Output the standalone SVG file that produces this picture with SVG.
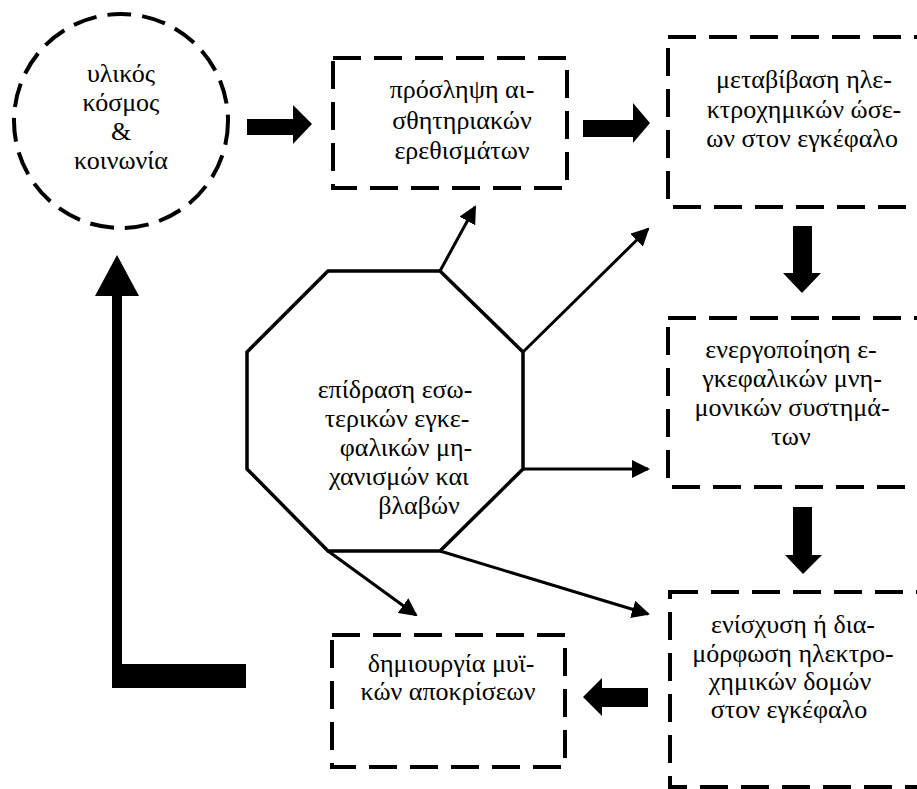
<svg xmlns="http://www.w3.org/2000/svg" width="917" height="789" viewBox="0 0 917 789">
  <style>
    .box { fill: none; stroke: #000; stroke-width: 4; stroke-dasharray: 28 13; }
    .ring { fill: none; stroke: #000; stroke-width: 4; stroke-dasharray: 24 11; }
    .thin { fill: none; stroke: #000; stroke-width: 3; }
  </style>
  <defs>
    <marker id="head" markerUnits="userSpaceOnUse" viewBox="0 0 18 18" refX="16" refY="9" markerWidth="18" markerHeight="18" orient="auto">
      <path d="M0,0 L18,9 L0,18 z" fill="#000"/>
    </marker>
  </defs>
  <rect width="917" height="789" fill="#fff"/>

  <!-- world & society -->
  <g id="world">
    <circle class="ring" cx="121" cy="121" r="107"/>
    <text x="121" y="82" font-family="Liberation Serif" font-size="26" text-anchor="middle">υλικός</text>
    <text x="121" y="111" font-family="Liberation Serif" font-size="26" text-anchor="middle">κόσμος</text>
    <text x="121" y="140" font-family="Liberation Serif" font-size="26" text-anchor="middle"><![CDATA[&]]></text>
    <text x="121" y="169" font-family="Liberation Serif" font-size="26" text-anchor="middle">κοινωνία</text>
  </g>

  <!-- perception of sensory stimuli -->
  <g id="perception">
    <rect class="box" x="333" y="58" width="234" height="130" stroke-dasharray="22 10"/>
    <text x="462" y="98" font-family="Liberation Serif" font-size="26" text-anchor="middle">πρόσληψη αι-</text>
    <text x="462" y="128.5" font-family="Liberation Serif" font-size="26" text-anchor="middle">σθητηριακών</text>
    <text x="462" y="159" font-family="Liberation Serif" font-size="26" text-anchor="middle">ερεθισμάτων</text>
  </g>

  <!-- transmission of impulses -->
  <g id="transmission">
    <rect class="box" x="668" y="37" width="280" height="170"/>
    <text x="804" y="88" font-family="Liberation Serif" font-size="26" text-anchor="middle">μεταβίβαση ηλε-</text>
    <text x="804" y="118" font-family="Liberation Serif" font-size="26" text-anchor="middle">κτροχημικών ώσε-</text>
    <text x="802" y="147" font-family="Liberation Serif" font-size="26" text-anchor="middle">ων στον εγκέφαλο</text>
  </g>

  <!-- activation of memory systems -->
  <g id="activation">
    <rect class="box" x="668" y="318" width="280" height="169"/>
    <text x="791" y="358" font-family="Liberation Serif" font-size="26" text-anchor="middle">ενεργοποίηση ε-</text>
    <text x="792" y="387" font-family="Liberation Serif" font-size="26" text-anchor="middle">γκεφαλικών μνη-</text>
    <text x="792" y="416" font-family="Liberation Serif" font-size="26" text-anchor="middle">μονικών συστημά-</text>
    <text x="791" y="445" font-family="Liberation Serif" font-size="26" text-anchor="middle">των</text>
  </g>

  <!-- reinforcement of structures -->
  <g id="reinforcement">
    <rect class="box" x="670" y="592" width="280" height="195"/>
    <text x="793" y="633" font-family="Liberation Serif" font-size="26" text-anchor="middle">ενίσχυση ή δια-</text>
    <text x="793" y="662" font-family="Liberation Serif" font-size="26" text-anchor="middle">μόρφωση ηλεκτρο-</text>
    <text x="790" y="690" font-family="Liberation Serif" font-size="26" text-anchor="middle">χημικών δομών</text>
    <text x="789" y="718" font-family="Liberation Serif" font-size="26" text-anchor="middle">στον εγκέφαλο</text>
  </g>

  <!-- motor responses -->
  <g id="motor">
    <rect class="box" x="332" y="635" width="233" height="132"/>
    <text x="451" y="672" font-family="Liberation Serif" font-size="26" text-anchor="middle">δημιουργία μυϊ-</text>
    <text x="448" y="700" font-family="Liberation Serif" font-size="26" text-anchor="middle">κών αποκρίσεων</text>
  </g>

  <!-- internal brain mechanisms -->
  <g id="internal">
    <polygon points="328,271 440,271 523,352 523,469 440,551 328,551 247,469 247,352" fill="#fff" stroke="#000" stroke-width="3.5"/>
    <text x="395" y="398" font-family="Liberation Serif" font-size="26" text-anchor="middle">επίδραση εσω-</text>
    <text x="397" y="427" font-family="Liberation Serif" font-size="26" text-anchor="middle">τερικών εγκε-</text>
    <text x="406" y="456" font-family="Liberation Serif" font-size="26" text-anchor="middle">φαλικών μη-</text>
    <text x="399" y="485" font-family="Liberation Serif" font-size="26" text-anchor="middle">χανισμών και</text>
    <text x="419" y="514" font-family="Liberation Serif" font-size="26" text-anchor="middle">βλαβών</text>
  </g>

  <g id="connectors">
    <!-- thick block arrows -->
    <g fill="#000">
      <polygon points="247,119 293,119 293,105 312,124 293,144 293,135 247,135"/>
      <polygon points="583,120 633,120 633,103 650,123 633,143 633,137 583,137"/>
      <polygon points="793,226 812,226 812,273 821,273 802,293 783,273 793,273"/>
      <polygon points="793,507 812,507 812,555 822,555 803,574 785,555 793,555"/>
      <polygon points="648,688 648,707 602,707 602,716 583,697 602,678 602,688"/>
      <polygon points="246,664 246,688 112,688 112,296 95,296 117,255 139,296 122,296 122,664"/>
    </g>
    <!-- thin arrows from the octagon -->
    <g class="thin" marker-end="url(#head)">
      <line x1="440" y1="271" x2="475" y2="207"/>
      <line x1="523" y1="352" x2="648" y2="229"/>
      <line x1="523" y1="469" x2="648" y2="469"/>
      <line x1="440" y1="551" x2="648" y2="614"/>
      <line x1="328" y1="551" x2="416" y2="615"/>
    </g>
  </g>
</svg>
